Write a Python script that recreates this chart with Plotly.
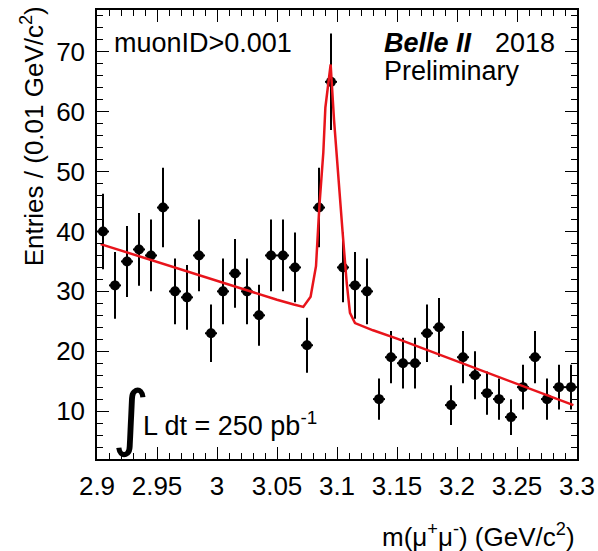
import plotly.graph_objects as go

# ---- data ----
bin_centers = [2.905, 2.915, 2.925, 2.935, 2.945, 2.955, 2.965, 2.975, 2.985, 2.995,
               3.005, 3.015, 3.025, 3.035, 3.045, 3.055, 3.065, 3.075, 3.085, 3.095,
               3.105, 3.115, 3.125, 3.135, 3.145, 3.155, 3.165, 3.175, 3.185, 3.195,
               3.205, 3.215, 3.225, 3.235, 3.245, 3.255, 3.265, 3.275, 3.285, 3.295]
entries = [40, 31, 35, 37, 36, 44, 30, 29, 36, 23,
           30, 33, 30, 26, 36, 36, 34, 21, 44, 65,
           34, 31, 30, 12, 19, 18, 18, 23, 24, 11,
           19, 16, 13, 12, 9, 14, 19, 12, 14, 14]
errors = [6.32, 5.57, 5.92, 6.08, 6.0, 6.63, 5.48, 5.39, 6.0, 4.8,
          5.48, 5.74, 5.48, 5.1, 6.0, 6.0, 5.83, 4.58, 6.63, 8.06,
          5.83, 5.57, 5.48, 3.46, 4.36, 4.24, 4.24, 4.8, 4.9, 3.32,
          4.36, 4.0, 3.61, 3.46, 3.0, 3.74, 4.36, 3.46, 3.74, 3.74]
bin_half_width = [0.005] * len(bin_centers)

fit_x = [2.903, 2.95, 3.0, 3.05, 3.064, 3.0719, 3.078, 3.0825, 3.0853, 3.0886,
         3.0903, 3.0947, 3.0975, 3.1019, 3.1047, 3.1081, 3.1108, 3.1150, 3.13,
         3.15, 3.2, 3.25, 3.297]
fit_y = [37.9, 34.9, 31.8, 28.6, 27.8, 27.4, 29.1, 34.2, 44.2, 53.2,
         60.7, 67.9, 58.7, 46.5, 39.8, 31.4, 26.4, 24.7, 23.5,
         22.1, 18.3, 14.5, 11.0]

x_ticks = [2.9, 2.95, 3.0, 3.05, 3.1, 3.15, 3.2, 3.25, 3.3]
x_tick_labels = ["2.9", "2.95", "3", "3.05", "3.1", "3.15", "3.2", "3.25", "3.3"]
y_ticks = [10, 20, 30, 40, 50, 60, 70]

FONT = "Liberation Sans, Arial, Helvetica, sans-serif"
TICK_SIZE = 26
TEXT_SIZE = 27

fig = go.Figure()
fig.add_trace(go.Scatter(
    x=bin_centers, y=entries, mode="markers",
    marker=dict(color="black", size=10, symbol="circle"),
    error_y=dict(type="data", array=errors, color="black", thickness=2, width=0),
    error_x=dict(type="data", array=bin_half_width, color="black", thickness=2, width=0),
    showlegend=False, hoverinfo="x+y"))
fig.add_trace(go.Scatter(
    x=fit_x, y=fit_y, mode="lines",
    line=dict(color="#e8141b", width=2.5), showlegend=False))

axis_common = dict(
    showgrid=False, zeroline=False, showline=True, linecolor="black", linewidth=1.5,
    mirror="allticks", ticks="inside", tickcolor="black", tickwidth=1, automargin=False,
    tickfont=dict(family=FONT, size=TICK_SIZE, color="black"))

fig.update_xaxes(
    range=[2.9, 3.3], tickvals=x_ticks, ticktext=x_tick_labels, ticklen=12,
    ticklabelstandoff=3,
    minor=dict(dtick=0.01, tick0=2.9, ticklen=6, ticks="inside", tickcolor="black", tickwidth=1),
    **axis_common)
fig.update_yaxes(
    range=[2, 77], tickvals=y_ticks, ticklen=12, ticklabelstandoff=5,
    minor=dict(dtick=2, tick0=0, ticklen=6, ticks="inside", tickcolor="black", tickwidth=1),
    **axis_common)

ann = []
ann.append(dict(text="Entries / (0.01 GeV/c<sup>2</sup>)", xref="paper", yref="paper",
                x=-0.135, y=1.013, xanchor="center", yanchor="top", textangle=-90,
                showarrow=False, font=dict(family=FONT, size=TICK_SIZE, color="black")))
ann.append(dict(text="m(μ<sup>+</sup>μ<sup>-</sup>) (GeV/c<sup>2</sup>)", xref="paper", yref="paper",
                x=1.0, y=-0.17, xanchor="right", yanchor="middle",
                showarrow=False, font=dict(family=FONT, size=TICK_SIZE, color="black")))
ann.append(dict(text="muonID>0.001", xref="paper", yref="paper",
                x=0.031, y=0.927, xanchor="left", yanchor="middle",
                showarrow=False, font=dict(family=FONT, size=TEXT_SIZE, color="black")))
ann.append(dict(text="<b><i>Belle II</i></b>", xref="paper", yref="paper",
                x=0.594, y=0.927, xanchor="left", yanchor="middle",
                showarrow=False, font=dict(family=FONT, size=TEXT_SIZE, color="black")))
ann.append(dict(text="2018", xref="paper", yref="paper",
                x=0.826, y=0.927, xanchor="left", yanchor="middle",
                showarrow=False, font=dict(family=FONT, size=TEXT_SIZE, color="black")))
ann.append(dict(text="Preliminary", xref="paper", yref="paper",
                x=0.594, y=0.864, xanchor="left", yanchor="middle",
                showarrow=False, font=dict(family=FONT, size=TEXT_SIZE, color="black")))
ann.append(dict(text="∫", xref="paper", yref="paper",
                x=0.028, y=0.093, xanchor="left", yanchor="middle",
                showarrow=False, font=dict(family="DejaVu Sans", size=72, color="black")))
ann.append(dict(text="L dt = 250 pb<sup>-1</sup>", xref="paper", yref="paper",
                x=0.092, y=0.078, xanchor="left", yanchor="middle",
                showarrow=False, font=dict(family=FONT, size=TEXT_SIZE, color="black")))

fig.update_layout(
    width=598, height=551,
    margin=dict(l=97, r=21, t=10, b=92),
    paper_bgcolor="white", plot_bgcolor="white",
    annotations=ann, showlegend=False)

fig.write_html("out.html", config={"displayModeBar": False},
               post_script="document.body.style.margin='0';document.body.style.padding='0';")
